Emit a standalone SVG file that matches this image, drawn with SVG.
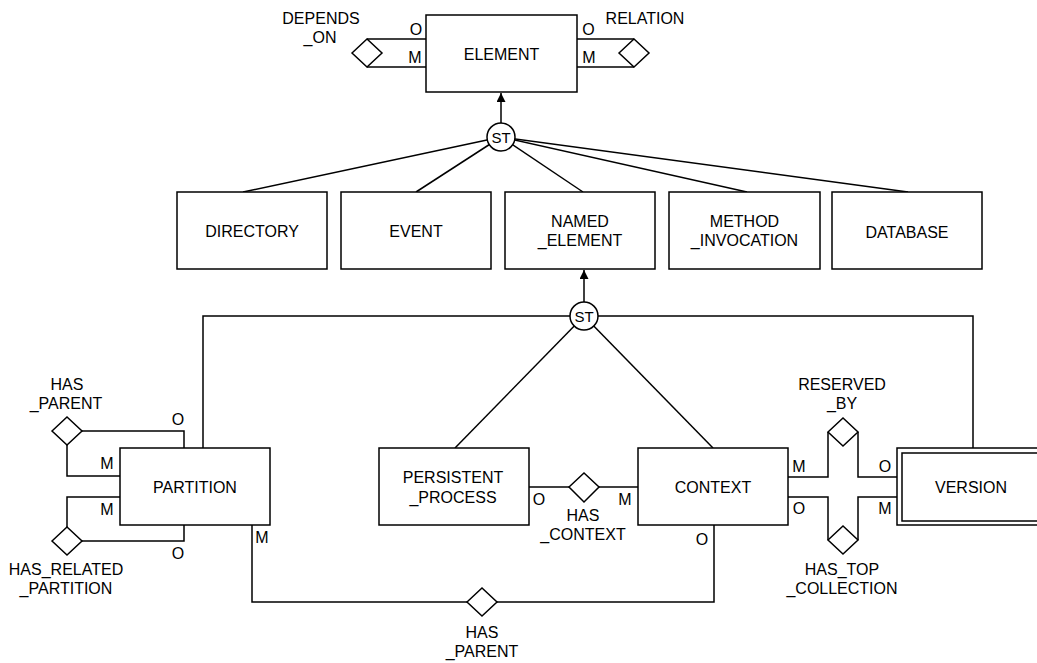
<svg xmlns="http://www.w3.org/2000/svg" width="1037" height="663" viewBox="0 0 1037 663">
<style>
.box{fill:#fff;stroke:#000;stroke-width:1.5}
.ln{fill:none;stroke:#000;stroke-width:1.5}
.dia{fill:#fff;stroke:#000;stroke-width:1.5}
.st{fill:#fff;stroke:#000;stroke-width:1.5}
text{font-family:"Liberation Sans",Arial,sans-serif;font-size:16px;fill:#000;text-anchor:middle}
.sm{font-size:15px}
</style>
<defs>
<marker id="arr" viewBox="0 0 10 10" refX="10" refY="5" markerWidth="9" markerHeight="9" markerUnits="userSpaceOnUse" orient="auto"><path d="M0,0 L10,5 L0,10 z" fill="#000"/></marker>
</defs>
<rect width="1037" height="663" fill="#fff"/>
<g id="connectors">
<!-- ST1 -->
<line class="ln" x1="501" y1="123" x2="501" y2="93" marker-end="url(#arr)"/>
<line class="ln" x1="501" y1="137" x2="243" y2="192"/>
<line class="ln" x1="501" y1="137" x2="416" y2="192"/>
<line class="ln" x1="501" y1="137" x2="583" y2="192"/>
<line class="ln" x1="501" y1="137" x2="747" y2="192"/>
<line class="ln" x1="501" y1="137" x2="908" y2="192"/>
<!-- ST2 -->
<line class="ln" x1="584" y1="302" x2="584" y2="270" marker-end="url(#arr)"/>
<polyline class="ln" points="203,448 203,316 973,316 973,448"/>
<line class="ln" x1="584" y1="316" x2="455" y2="448"/>
<line class="ln" x1="584" y1="316" x2="713" y2="448"/>
<!-- DEPENDS_ON -->
<polyline class="ln" points="426,39 367,39"/>
<polyline class="ln" points="426,67 367,67"/>
<!-- RELATION -->
<polyline class="ln" points="577,39 634,39"/>
<polyline class="ln" points="577,67 634,67"/>
<!-- HAS_PARENT left -->
<polyline class="ln" points="82,431 184,431 184,448"/>
<polyline class="ln" points="67,445 67,476 120,476"/>
<!-- HAS_RELATED_PARTITION -->
<polyline class="ln" points="67,527 67,497 120,497"/>
<polyline class="ln" points="82,541 184,541 184,525"/>
<!-- HAS_CONTEXT -->
<line class="ln" x1="529" y1="487" x2="569" y2="487"/>
<line class="ln" x1="599" y1="487" x2="638" y2="487"/>
<!-- HAS_PARENT bottom -->
<polyline class="ln" points="252,525 252,602 467,602"/>
<polyline class="ln" points="497,602 714,602 714,525"/>
<!-- RESERVED_BY -->
<polyline class="ln" points="788,477 828,477 828,432"/>
<polyline class="ln" points="897,477 858,477 858,432"/>
<!-- HAS_TOP_COLLECTION -->
<polyline class="ln" points="788,497 828,497 828,540"/>
<polyline class="ln" points="897,497 858,497 858,540"/>
</g>
<g id="st1"><circle class="st" cx="501" cy="137" r="14"/><text class="sm" x="501" y="142.5">ST</text></g>
<g id="st2"><circle class="st" cx="584" cy="316" r="14"/><text class="sm" x="584" y="321.5">ST</text></g>
<g id="element"><rect class="box" x="426" y="15" width="151" height="77"/><text x="501.5" y="60">ELEMENT</text></g>
<g id="depends_on"><polygon class="dia" points="352,53 367,39 382,53 367,67"/><text x="321" y="24">DEPENDS</text><text x="320" y="43">_ON</text><text x="416" y="35">O</text><text x="415" y="63">M</text></g>
<g id="relation"><polygon class="dia" points="619,53 634,39 649,53 634,67"/><text x="645" y="24">RELATION</text><text x="588.5" y="35">O</text><text x="589" y="63">M</text></g>
<g id="directory"><rect class="box" x="177" y="192" width="150" height="77"/><text x="252" y="237">DIRECTORY</text></g>
<g id="event"><rect class="box" x="341" y="192" width="150" height="77"/><text x="416" y="237">EVENT</text></g>
<g id="named_element"><rect class="box" x="505" y="192" width="150" height="77"/><text x="580" y="227">NAMED</text><text x="580" y="246">_ELEMENT</text></g>
<g id="method_invocation"><rect class="box" x="669" y="192" width="151" height="77"/><text x="744.5" y="227">METHOD</text><text x="744.5" y="246">_INVOCATION</text></g>
<g id="database"><rect class="box" x="832" y="192" width="150" height="77"/><text x="907" y="238">DATABASE</text></g>
<g id="partition"><rect class="box" x="120" y="448" width="150" height="77"/><text x="195" y="493">PARTITION</text></g>
<g id="persistent_process"><rect class="box" x="379" y="448" width="150" height="77"/><text x="453" y="483">PERSISTENT</text><text x="453" y="503">_PROCESS</text></g>
<g id="context"><rect class="box" x="638" y="448" width="150" height="77"/><text x="713" y="493">CONTEXT</text></g>
<g id="version"><rect class="box" x="897" y="448" width="150" height="77"/><rect class="box" x="902" y="453" width="140" height="68"/><text x="971" y="493">VERSION</text></g>
<g id="has_parent_left"><polygon class="dia" points="52,431 67,417 82,431 67,445"/><text x="67" y="390">HAS</text><text x="66" y="409">_PARENT</text><text x="178" y="425">O</text><text x="107" y="469">M</text></g>
<g id="has_related_partition"><polygon class="dia" points="52,541 67,527 82,541 67,555"/><text x="66" y="575">HAS_RELATED</text><text x="66" y="594">_PARTITION</text><text x="107" y="515">M</text><text x="178" y="559">O</text></g>
<g id="has_context"><polygon class="dia" points="569,487 584,473 599,487 584,502"/><text x="583" y="521">HAS</text><text x="583" y="540">_CONTEXT</text><text x="539" y="505">O</text><text x="625" y="505">M</text></g>
<g id="has_parent_bottom"><polygon class="dia" points="467,602 482,588 497,602 482,616"/><text x="482" y="638">HAS</text><text x="482" y="657">_PARENT</text><text x="262" y="543">M</text><text x="702" y="545">O</text></g>
<g id="reserved_by"><polygon class="dia" points="828,432 843,418 858,432 843,446"/><text x="842" y="390">RESERVED</text><text x="842" y="409">_BY</text><text x="799" y="472">M</text><text x="885" y="472">O</text></g>
<g id="has_top_collection"><polygon class="dia" points="828,540 843,526 858,540 843,554"/><text x="842" y="575">HAS_TOP</text><text x="842" y="594">_COLLECTION</text><text x="799" y="514">O</text><text x="885" y="514">M</text></g>
</svg>
